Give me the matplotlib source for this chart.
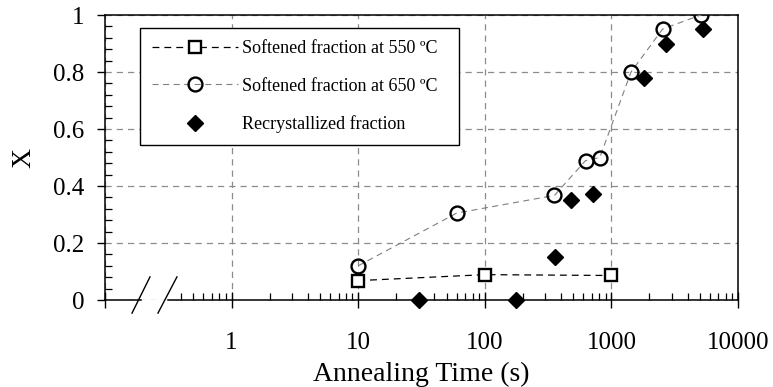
import numpy as np
import matplotlib
matplotlib.use("Agg")
import matplotlib.pyplot as plt
from matplotlib.ticker import FixedLocator, FuncFormatter, MultipleLocator

plt.rcParams['font.family'] = ['Liberation Serif', 'DejaVu Serif']

# Softened fraction at 550 C
t_550 = [10, 100, 1000]
x_550 = [0.068, 0.089, 0.086]

# Softened fraction at 650 C
t_650 = [10, 60, 355, 625, 810, 1430, 2540, 5100]
x_650 = [0.12, 0.305, 0.367, 0.489, 0.50, 0.80, 0.951, 1.0]

# Recrystallized fraction
t_rex = [30, 178, 360, 476, 718, 1820, 2700, 5320]
x_rex = [0.0, 0.0, 0.151, 0.35, 0.371, 0.778, 0.898, 0.95]

x_ticks = [0.1, 1, 10, 100, 1000, 10000]

fig = plt.figure(figsize=(7.73, 3.87), dpi=100)
ax = fig.add_axes([0.1358, 0.2248, 0.8189, 0.7364])

ax.plot(t_550, x_550, color='black', ls=(0, (5.5, 4)), lw=0.9,
        marker='s', ms=9, mfc='white', mec='black', mew=1.7,
        label='Softened fraction at 550 ºC', zorder=3)
ax.plot(t_650, x_650, color='#808080', ls=(0, (5.5, 4)), lw=0.8,
        marker='o', ms=10, mfc='none', mec='black', mew=1.7,
        label='Softened fraction at 650 ºC', zorder=3)
ax.plot(t_rex, x_rex, ls='none', marker='D', ms=8, color='black',
        label='Recrystallized fraction', zorder=4, clip_on=False)

ax.set_xscale('log')
ax.set_xlim(0.1, 10000)
ax.set_ylim(0, 1)

ax.xaxis.set_major_locator(FixedLocator(x_ticks))
ax.xaxis.set_major_formatter(FuncFormatter(lambda v, p: '' if v < 1 else '%d' % round(v)))
# minor ticks, leaving out the ones that fall inside the axis break
minor = [k * 10.0 ** e for e in range(-1, 4) for k in range(2, 10)]
minor = [m for m in minor if m > 0.35]
ax.xaxis.set_minor_locator(FixedLocator(minor))

ax.yaxis.set_major_locator(MultipleLocator(0.2))
ax.yaxis.set_minor_locator(MultipleLocator(0.04))
ax.yaxis.set_major_formatter(FuncFormatter(lambda v, p: '%g' % round(v, 1)))

ax.tick_params(axis='x', which='major', direction='inout', length=11.5, width=1.0, labelsize=18, pad=17)
ax.tick_params(axis='x', which='minor', direction='in', length=5, width=0.9)
ax.tick_params(axis='y', which='major', direction='out', length=6, width=1.0, labelsize=18, pad=9)
ax.tick_params(axis='y', which='minor', direction='in', length=5, width=0.9)

ax.grid(True, which='major', color='#8c8c8c', ls=(0, (5, 4)), lw=0.9)

for s in ['top', 'right', 'left']:
    ax.spines[s].set_linewidth(1.1)

# broken bottom axis
ax.spines['bottom'].set_visible(False)
tr = ax.transAxes
ax.plot([0, 0.057], [0, 0], color='black', lw=1.1, transform=tr, clip_on=False, zorder=5)
ax.plot([0.0995, 1], [0, 0], color='black', lw=1.1, transform=tr, clip_on=False, zorder=5)
ax.plot([0.0427, 0.0711], [-0.046, 0.081], color='black', lw=1.0, transform=tr, clip_on=False, zorder=5)
ax.plot([0.0837, 0.1137], [-0.046, 0.081], color='black', lw=1.0, transform=tr, clip_on=False, zorder=5)

ax.set_xlabel('Annealing Time (s)', fontsize=20, labelpad=6)
ax.set_ylabel('X', fontsize=20, labelpad=12)

leg = ax.legend(loc='upper left', bbox_to_anchor=(0.0553, 0.954, 0.504, 0.0),
                mode='expand', borderaxespad=0,
                fontsize=13, frameon=True, fancybox=False, framealpha=1,
                edgecolor='black', handlelength=4.8, handletextpad=0.2,
                labelspacing=1.15, borderpad=0.65)
leg.get_frame().set_linewidth(1.0)

fig.savefig('out.png', dpi=100)
